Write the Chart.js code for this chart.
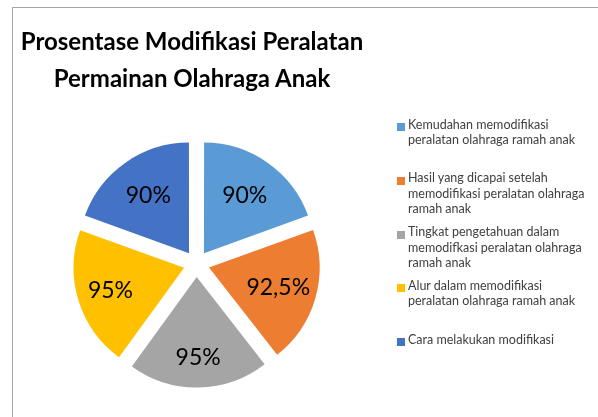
<!DOCTYPE html>
<html><head><meta charset="utf-8">
<script src="https://cdn.jsdelivr.net/npm/chart.js@4.4.0/dist/chart.umd.min.js"></script>
<style>
html,body{margin:0;padding:0;background:#fff;width:598px;height:417px;overflow:hidden;font-family:Lato,'Noto Sans',sans-serif}
#frame{position:absolute;left:12px;top:7px;width:700px;height:500px;border-left:1px solid #a6a6a6;border-top:1px solid #a6a6a6}
#c{position:absolute;left:0;top:0}
#title{position:absolute;left:0;width:384px;top:22px;text-align:center;font-weight:bold;font-size:24px;line-height:37px;color:#000;white-space:nowrap}
#legend{position:absolute;left:397px;top:0;width:201px;height:417px}
.item{position:absolute;left:0;width:201px}
.sw{position:absolute;left:0;top:6.5px;width:8px;height:8px}
.tx{position:absolute;left:11px;top:0;font-size:12.5px;line-height:15.5px;color:#404040;white-space:nowrap}
</style></head>
<body>
<div id="frame"></div>
<canvas id="c" width="598" height="417"></canvas>
<div id="title"></div>
<div id="legend"></div>
<script>
const titleLines = ["Prosentase Modifikasi Peralatan", "Permainan Olahraga Anak"];
const categories = [
  ["Kemudahan memodifikasi", "peralatan olahraga ramah anak"],
  ["Hasil yang dicapai setelah", "memodifikasi peralatan olahraga", "ramah anak"],
  ["Tingkat pengetahuan dalam", "memodifkasi peralatan olahraga", "ramah anak"],
  ["Alur dalam memodifikasi", "peralatan olahraga ramah anak"],
  ["Cara melakukan modifikasi"]
];
const values = [90, 92.5, 95, 95, 90];
const colors = ["#5B9BD5", "#ED7D31", "#A5A5A5", "#FFC000", "#4472C4"];

document.getElementById('title').innerHTML = titleLines.join('<br>');

const legend = document.getElementById('legend');
categories.forEach((lines, i) => {
  const it = document.createElement('div');
  it.className = 'item';
  it.style.top = (116.6 + i * 53.75) + 'px';
  const sw = document.createElement('div');
  sw.className = 'sw';
  sw.style.background = colors[i];
  const tx = document.createElement('div');
  tx.className = 'tx';
  tx.innerHTML = lines.join('<br>');
  it.appendChild(sw); it.appendChild(tx);
  legend.appendChild(it);
});

// Chart.js v4 arcs translate by offset/4
const SLICE_OFFSET = 52;
const labelFactors = [0.645, 0.655, 0.736, 0.70, 0.645];
const labelPlugin = {
  id: 'sliceLabels',
  afterDatasetsDraw(chart) {
    const ctx = chart.ctx;
    const meta = chart.getDatasetMeta(0);
    ctx.save();
    ctx.font = '23px Lato, "Noto Sans", sans-serif';
    ctx.fillStyle = '#000';
    ctx.textAlign = 'center';
    ctx.textBaseline = 'middle';
    meta.data.forEach((arc, i) => {
      const p = arc.getProps(['x','y','startAngle','endAngle','outerRadius']);
      const a = (p.startAngle + p.endAngle) / 2;
      const off = (arc.options.offset || 0) / 4;
      const d = off + p.outerRadius * labelFactors[i];
      const txt = String(values[i]).replace('.', ',') + '%';
      ctx.fillText(txt, p.x + Math.cos(a) * d, p.y + Math.sin(a) * d);
    });
    ctx.restore();
  }
};

new Chart(document.getElementById('c'), {
  type: 'pie',
  data: {
    labels: categories.map(l => l.join(' ')),
    datasets: [{ data: values, backgroundColor: colors, borderWidth: 0, offset: SLICE_OFFSET, hoverOffset: 0 }]
  },
  options: {
    responsive: false,
    animation: false,
    radius: 110,
    layout: { padding: { left: 0, right: 205, top: 130, bottom: 19 } },
    plugins: { legend: { display: false }, tooltip: { enabled: false }, title: { display: false } }
  },
  plugins: [labelPlugin]
});
</script>
</body></html>
